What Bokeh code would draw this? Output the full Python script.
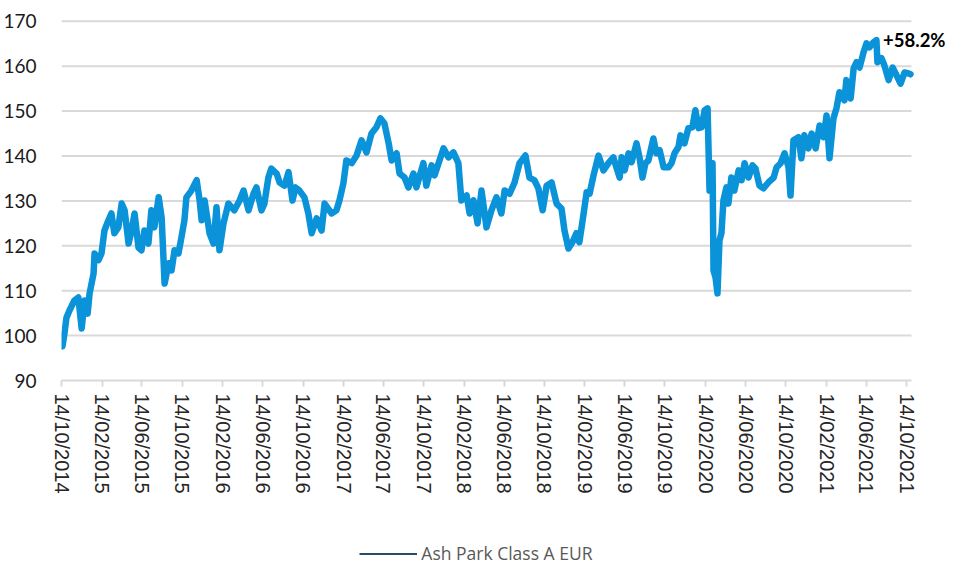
import math
import pandas as pd
from bokeh.plotting import figure
from bokeh.layouts import column
from bokeh.models import (FixedTicker, DatetimeTickFormatter, Range1d, Legend,
                          LegendItem, Label, ColumnDataSource)
from bokeh.embed import file_html
from bokeh.resources import INLINE

# ---------------- data ----------------
launch_date = "2014-10-14"

days_since_launch = [
    0, 3, 9, 15, 24, 39, 51, 61, 70, 79, 85, 97, 100, 112, 121, 130, 142, 151, 160, 172,
    182, 191, 203, 212, 221, 233, 242, 251, 263, 272, 281, 294, 303, 312, 324, 333, 342, 354,
    363, 372, 378, 393, 409, 418, 424, 433, 448, 460, 469, 478, 490, 505, 523, 539, 551, 566,
    581, 590, 605, 614, 626, 635, 651, 660, 675, 687, 699, 708, 720,
    735, 747, 757, 772, 787, 796, 817, 832, 841, 853, 862, 878, 893, 908, 923, 938, 953, 965,
    977, 990, 999, 1014, 1023, 1038, 1050, 1065, 1074, 1095, 1104, 1120, 1129, 1141, 1156,
    1171, 1186, 1201, 1210, 1226, 1235, 1247, 1259, 1271, 1286, 1301, 1316, 1331, 1341, 1356,
    1371, 1386, 1404, 1416, 1431, 1443, 1456, 1468, 1483, 1498, 1513, 1522, 1534, 1546, 1558,
    1567, 1580, 1589, 1598, 1610, 1625, 1640, 1655, 1670, 1679, 1689,
    1695, 1704, 1716, 1725, 1740, 1749, 1758, 1767, 1776, 1791, 1800, 1810, 1822, 1837, 1846,
    1855, 1867, 1873, 1885, 1897, 1909, 1918, 1928, 1937, 1946, 1955, 1961, 1970, 1973, 1979,
    1985, 1991, 1997, 2003, 2012, 2018, 2027, 2036, 2049, 2058, 2067, 2079, 2091, 2100, 2112,
    2124, 2139, 2155, 2164, 2176, 2188, 2200, 2206, 2215, 2230, 2239, 2248, 2260, 2270, 2282,
    2294, 2306, 2315, 2324, 2336, 2345, 2354, 2369, 2375, 2388, 2397, 2406, 2415, 2427, 2436,
    2445, 2457, 2466, 2469, 2481, 2490, 2503, 2515, 2524, 2539, 2551, 2563, 2569,
]

nav = [
    100.0, 97.6, 100.5, 104.0, 105.6, 107.8, 108.5, 101.6, 107.8, 104.9, 109.4, 113.8, 118.3,
    116.8, 118.3, 123.4, 125.7, 127.2, 122.8, 124.1, 129.4, 127.9, 120.5, 123.4, 127.2, 119.6,
    119.0, 123.4, 120.5, 127.9, 124.1, 130.8, 126.3, 111.6, 116.1, 114.5, 119.0, 118.3, 121.9,
    125.7, 130.8, 132.3, 134.6, 130.1, 125.7, 130.1, 122.8, 120.5, 128.6, 119.0, 124.9, 129.4,
    127.9, 130.1, 132.3, 127.9, 131.6, 133.0, 127.9, 129.4, 135.2, 137.2, 136.1, 134.1, 133.4,
    136.4, 130.1, 133.0, 132.3,
    130.8, 127.2, 122.8, 126.1, 123.4, 129.4, 127.2, 127.9, 130.1, 133.9, 139.0, 138.4, 140.1,
    143.5, 140.8, 145.0, 146.4, 148.4, 147.3, 142.8, 139.0, 140.6, 136.1, 135.2, 133.0, 136.1,
    133.0, 138.4, 133.4, 137.9, 135.7, 138.4, 141.7, 139.7, 140.8, 138.4, 130.1, 131.2, 127.2,
    130.1, 125.0, 132.3, 124.1, 127.9, 130.8, 127.2, 132.3, 131.6, 134.1, 138.4, 140.1, 135.2,
    134.6, 132.8, 127.9, 133.4, 134.1, 129.4, 128.3, 123.4, 119.4, 120.8, 122.8, 120.8, 127.2,
    131.9, 131.6, 135.7, 140.1, 136.8, 138.4, 139.7, 137.5, 135.2,
    139.7, 136.8, 140.6, 138.6, 142.8, 139.7, 135.2, 138.4, 139.0, 143.9, 140.6, 141.3, 137.5,
    137.5, 138.4, 140.6, 142.0, 144.6, 142.8, 146.2, 146.4, 150.2, 146.2, 146.4, 150.2, 150.6,
    132.3, 138.4, 114.5, 113.0, 109.4, 121.2, 122.8, 130.1, 133.0, 129.4, 135.2, 132.3, 136.8,
    134.6, 138.4, 135.2, 137.9, 137.2, 133.4, 132.8, 134.1, 135.2, 137.5, 138.4, 140.6, 137.5,
    131.2, 143.5, 144.2, 139.5, 144.6, 141.7, 145.0, 141.7, 146.8, 144.2, 149.0, 139.5, 148.4,
    150.6, 154.2, 152.4, 156.9, 152.8, 159.5, 160.9, 159.7, 163.1, 165.1, 164.2, 165.3, 165.8,
    160.9, 161.8, 160.2, 156.9, 159.7, 158.4, 156.1, 158.6, 158.4, 158.2,
]

tick_dates = [
    "2014-10-14", "2015-02-14", "2015-06-14", "2015-10-14", "2016-02-14", "2016-06-14",
    "2016-10-14", "2017-02-14", "2017-06-14", "2017-10-14", "2018-02-14", "2018-06-14",
    "2018-10-14", "2019-02-14", "2019-06-14", "2019-10-14", "2020-02-14", "2020-06-14",
    "2020-10-14", "2021-02-14", "2021-06-14", "2021-10-14",
]
y_ticks = [90, 100, 110, 120, 130, 140, 150, 160, 170]
series_name = "Ash Park Class A EUR"
performance_label = "+58.2%"
performance_anchor = ("2021-08-04", 165.8)
axis_span = ("2014-10-14", "2021-10-29")      # extent of axis line and gridlines
view_end = "2022-02-12"                       # room on the right for the annotation

# ---------------- build ----------------
def ms(d):
    return pd.Timestamp(d).value / 1e6

dates = pd.Timestamp(launch_date) + pd.to_timedelta(days_since_launch, unit="D")
src = ColumnDataSource(dict(date=dates, nav=nav))

p = figure(frame_width=885, frame_height=361, output_backend="svg", toolbar_location=None,
           x_axis_type="datetime",
           x_range=Range1d(ms(axis_span[0]), ms(view_end)),
           y_range=Range1d(y_ticks[0], y_ticks[-1] + 0.4),
           min_border_left=52, min_border_right=0, min_border_top=19,
           min_border_bottom=140)
p.outline_line_color = None
p.background_fill_color = "white"
p.border_fill_color = "white"
p.grid.grid_line_color = None

# horizontal gridlines, limited to the dated span like the reference
grid_src = ColumnDataSource(dict(
    x0=[ms(axis_span[0])] * (len(y_ticks) - 1),
    x1=[ms(axis_span[1])] * (len(y_ticks) - 1),
    y=y_ticks[1:]))
p.segment(x0="x0", x1="x1", y0="y", y1="y", source=grid_src,
          line_color="#d9d9d9", line_width=2)

# y axis
p.yaxis.ticker = FixedTicker(ticks=y_ticks)
p.yaxis.axis_line_color = None
p.yaxis.major_tick_line_color = None
p.yaxis.minor_tick_line_color = None
p.yaxis.major_label_standoff = 19
p.yaxis.major_label_text_font = "Lato"
p.yaxis.major_label_text_font_size = "19px"
p.yaxis.major_label_text_color = "#1a1a1a"

# x axis
fmt = "%d/%m/%Y"
p.xaxis.ticker = FixedTicker(ticks=[ms(d) for d in tick_dates])
p.xaxis.formatter = DatetimeTickFormatter(
    microseconds=fmt, milliseconds=fmt, seconds=fmt, minsec=fmt, minutes=fmt,
    hourmin=fmt, hours=fmt, days=fmt, months=fmt, years=fmt)
p.xaxis.bounds = (ms(axis_span[0]), ms(axis_span[1]))
p.xaxis.axis_line_color = "#d9d9d9"
p.xaxis.axis_line_width = 2
p.xaxis.major_tick_line_color = "#d9d9d9"
p.xaxis.major_tick_line_width = 2
p.xaxis.major_tick_out = 6
p.xaxis.major_tick_in = 0
p.xaxis.minor_tick_line_color = None
p.xaxis.major_label_orientation = -math.pi / 2
p.xaxis.major_label_standoff = 7
p.xaxis.major_label_text_font = "Liberation Sans"
p.xaxis.major_label_text_font_size = "20px"
p.xaxis.major_label_text_color = "#262626"

# series
p.line("date", "nav", source=src, line_color="#0a93d9", line_width=6.5,
       line_join="round", line_cap="round")

# performance annotation
p.add_layout(Label(x=ms(performance_anchor[0]), y=performance_anchor[1],
                   text=performance_label, text_font="Lato", text_font_style="bold",
                   text_font_size="18.5px", text_color="#000000",
                   text_align="left", text_baseline="middle"))

# legend strip under the chart (swatch is a thin dark line as in the reference)
lg = figure(frame_width=885, frame_height=45, output_backend="svg", toolbar_location=None,
            x_range=Range1d(0, 1), y_range=Range1d(0, 1),
            x_axis_location=None, y_axis_location=None,
            min_border_left=52, min_border_right=0, min_border_top=0, min_border_bottom=0)
lg.outline_line_color = None
lg.grid.grid_line_color = None
swatch = lg.line(x=[0], y=[0], line_color="#2b4c66", line_width=2)
legend = Legend(items=[LegendItem(label=series_name, renderers=[swatch])],
                location=(342, 0), orientation="horizontal",
                border_line_color=None, background_fill_alpha=0,
                glyph_width=58, glyph_height=17, label_height=17,
                label_standoff=4, padding=0, margin=0, spacing=0,
                label_text_font="Open Sans", label_text_font_size="17.5px",
                label_text_color="#595959")
lg.add_layout(legend, "center")

layout = column(p, lg, spacing=0)
open("out.html", "w").write(file_html(layout, INLINE))
